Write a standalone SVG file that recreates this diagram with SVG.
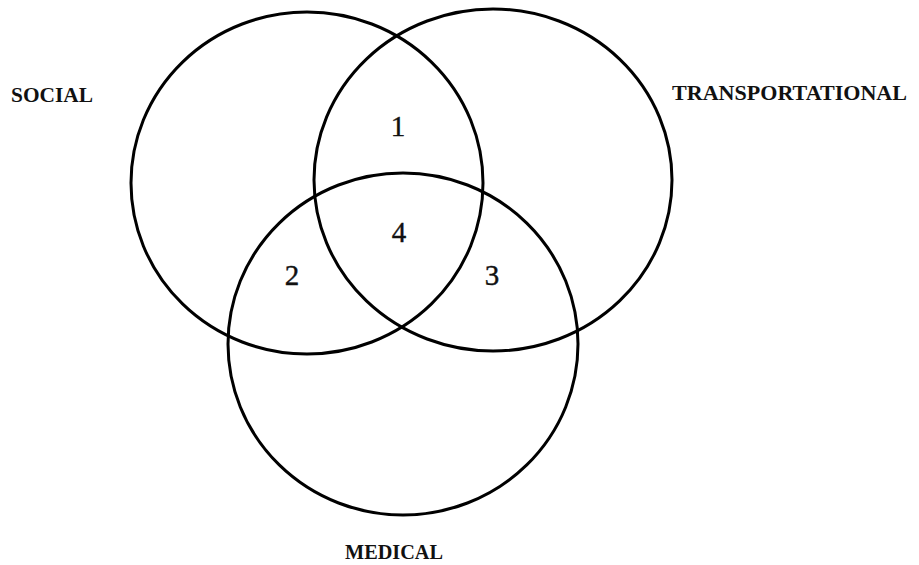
<svg xmlns="http://www.w3.org/2000/svg" width="919" height="565" viewBox="0 0 919 565">
  <style>
    .ring { fill: none; stroke: #000; stroke-width: 3; }
    .label { font-family: "Liberation Serif", "DejaVu Serif", serif; font-weight: bold; font-size: 22px; fill: #111; }
    .num { font-family: "Liberation Serif", "DejaVu Serif", serif; font-size: 29px; fill: #111; text-anchor: middle; stroke: #111; stroke-width: 0.4; }
  </style>
  <rect width="919" height="565" fill="#fff"/>

  <!-- three overlapping sets -->
  <g id="social">
    <ellipse class="ring" cx="307" cy="183" rx="176" ry="171"/>
    <text class="label" x="11" y="102" textLength="82" lengthAdjust="spacingAndGlyphs">SOCIAL</text>
  </g>
  <g id="transportational">
    <ellipse class="ring" cx="493" cy="180" rx="179" ry="171"/>
    <text class="label" x="672" y="100" textLength="235" lengthAdjust="spacingAndGlyphs">TRANSPORTATIONAL</text>
  </g>
  <g id="medical">
    <ellipse class="ring" cx="403" cy="344" rx="175" ry="171"/>
    <text class="label" x="345" y="559" textLength="98" lengthAdjust="spacingAndGlyphs">MEDICAL</text>
  </g>

  <!-- overlap region numbers -->
  <g id="regions">
    <text class="num" x="398" y="136">1</text>
    <text class="num" x="292" y="285">2</text>
    <text class="num" x="492" y="285">3</text>
    <text class="num" x="399" y="242">4</text>
  </g>
</svg>
